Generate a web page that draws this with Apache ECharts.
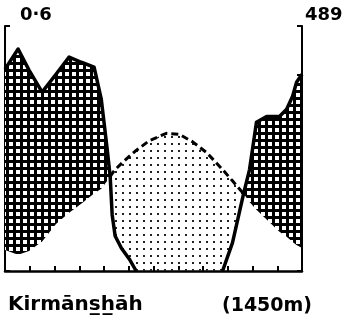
<!DOCTYPE html>
<html><head><meta charset="utf-8">
<script src="https://cdn.jsdelivr.net/npm/echarts@6/dist/echarts.min.js"></script>
<style>html,body{margin:0;padding:0;background:#fff}#c{width:347px;height:325px}</style>
</head><body><div id="c"></div>
<script>
// Month position (0 = start of Jan, 12 = end of Dec)
const monthPos = [0, 0.53, 0.97, 1.5, 2.06, 2.59, 3.08, 3.6, 3.89, 4.13, 4.25, 4.33, 4.45, 4.7, 5.02, 5.3, 5.83, 6.52, 7.04, 7.57, 8.14, 8.79, 9.19, 9.64, 9.88, 10.16, 10.57, 11.09, 11.38, 11.62, 11.78, 12];
// Precipitation (mm)
const precipMm = [82.4, 90.6, 82.0, 73.0, 80.3, 87.3, 85.2, 83.2, 70.1, 49.6, 38.5, 23.0, 14.3, 9.4, 4.9, 0, 0, 0, 0, 0, 0, 0, 11.5, 31.6, 41.4, 60.7, 63.1, 63.1, 66.0, 71.3, 77.0, 80.3];
// Temperature (°C), drawn on the P = 2T scale
const tempC = [4.3, 3.3, 4.1, 6.0, 9.6, 11.9, 13.7, 15.8, 16.8, 18.4, 19.25, 19.9, 20.7, 21.9, 23.4, 24.6, 26.6, 28.1, 27.9, 26.4, 24.2, 20.7, 18.4, 15.8, 14.1, 12.5, 10.5, 8.0, 7.0, 5.9, 5.3, 4.7];
const stationName = 'Kirma\u0304ns\u0332h\u0332a\u0304h';
const altitudeLabel = '(1450m)';
const leftLabel = '0\u00B76';
const rightLabel = '489';

function makeHatch(){
  const c=document.createElement('canvas'); c.width=7; c.height=7;
  const g=c.getContext('2d'); g.fillStyle='#000'; g.fillRect(0,0,7,7);
  g.fillStyle='#fff'; g.fillRect(2,2,4,4); return c;
}
function makeDots(){
  const c=document.createElement('canvas'); c.width=7; c.height=7;
  const g=c.getContext('2d'); g.fillStyle='#222'; g.fillRect(3,3,2,2); return c;
}
const hatchPat = {image:makeHatch(), repeat:'repeat'};
const dotPat = {image:makeDots(), repeat:'repeat'};

const t2 = tempC.map(t=>t*2);
const precipLine = monthPos.map((m,i)=>{
  const z = precipMm[i]===0 && (i===0||precipMm[i-1]===0) && (i===monthPos.length-1||precipMm[i+1]===0);
  return z ? [m,null] : [m,precipMm[i]];
});
const tempLine = monthPos.map((m,i)=> t2[i] >= precipMm[i]-0.05 ? [m,t2[i]] : [m,null]);

function renderFills(params, api){
  const n = monthPos.length;
  const hatch = [], dots = [];
  for(let i=0;i<n;i++) hatch.push(api.coord([monthPos[i], precipMm[i]]));
  for(let i=n-1;i>=0;i--) hatch.push(api.coord([monthPos[i], Math.min(precipMm[i], t2[i])]));
  for(let i=0;i<n;i++) dots.push(api.coord([monthPos[i], Math.max(precipMm[i], t2[i])]));
  for(let i=n-1;i>=0;i--) dots.push(api.coord([monthPos[i], precipMm[i]]));
  return {type:'group', children:[
    {type:'polygon', shape:{points:hatch}, style:{fill:hatchPat, stroke:null}},
    {type:'polygon', shape:{points:dots}, style:{fill:dotPat, stroke:null}}
  ]};
}

const chart = echarts.init(document.getElementById('c'), null, {renderer:'canvas'});
const yCommon = {type:'value', min:0, max:100, interval:20,
  axisLine:{show:true, lineStyle:{color:'#000', width:2}},
  axisTick:{show:true, inside:true, length:5, lineStyle:{color:'#000', width:2}},
  axisLabel:{show:false}, splitLine:{show:false}};
chart.setOption({
  animation:false,
  grid:{left:5, right:45, top:26, bottom:54},
  xAxis:{type:'value', min:0, max:12, interval:1,
    axisLine:{show:true, onZero:false, lineStyle:{color:'#000', width:2.5}},
    axisTick:{show:true, inside:true, length:5, lineStyle:{color:'#000', width:2}},
    axisLabel:{show:false}, splitLine:{show:false}},
  yAxis:[Object.assign({position:'left'}, yCommon), Object.assign({position:'right'}, yCommon)],
  series:[
    {type:'custom', coordinateSystem:'cartesian2d', renderItem:renderFills, data:[[0,0]], silent:true, z:1},
    {type:'line', data:tempLine, symbol:'none', connectNulls:false,
      lineStyle:{color:'#000', width:3, type:[7,4]}, z:3},
    {type:'line', data:precipLine, symbol:'none', connectNulls:false,
      lineStyle:{color:'#000', width:3.5, join:'round'}, z:4}
  ],
  graphic:[
    {type:'text', x:20, y:15, style:{text:leftLabel, font:'bold 18px "DejaVu Sans"', fill:'#000', align:'left', verticalAlign:'middle'}},
    {type:'text', x:305, y:15, style:{text:rightLabel, font:'bold 18px "DejaVu Sans"', fill:'#000', align:'left', verticalAlign:'middle'}},
    {type:'text', x:8, y:305, style:{text:stationName, font:'bold 20px "DejaVu Sans"', fill:'#000', align:'left', verticalAlign:'middle'}},
    {type:'text', x:222, y:306, style:{text:altitudeLabel, font:'bold 19px "DejaVu Sans"', fill:'#000', align:'left', verticalAlign:'middle'}}
  ]
});
</script></body></html>
